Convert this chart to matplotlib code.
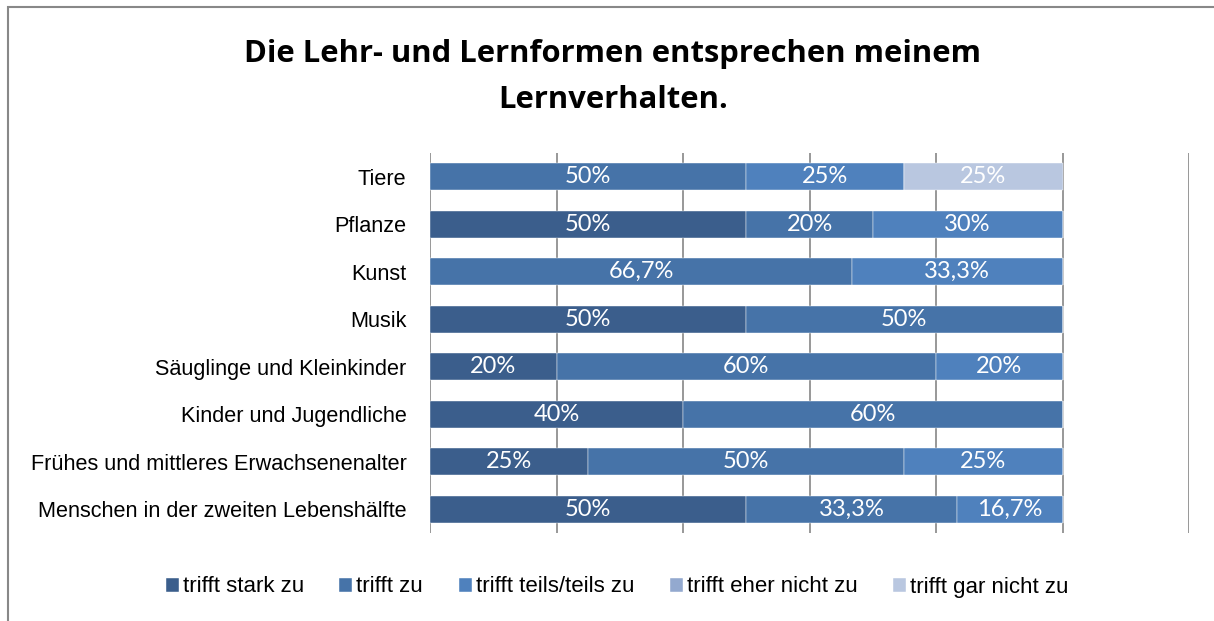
import matplotlib
matplotlib.use("Agg")
import matplotlib.pyplot as plt
import numpy as np
from matplotlib.patches import Rectangle

categories = ["Tiere", "Pflanze", "Kunst", "Musik", "Säuglinge und Kleinkinder",
              "Kinder und Jugendliche", "Frühes und mittleres Erwachsenenalter",
              "Menschen in der zweiten Lebenshälfte"]
series_names = ["trifft stark zu", "trifft zu", "trifft teils/teils zu",
                "trifft eher nicht zu", "trifft gar nicht zu"]
stark = [0, 50, 0, 50, 20, 40, 25, 50]
zu = [50, 20, 66.7, 50, 60, 60, 50, 33.3]
teils = [25, 30, 33.3, 0, 20, 0, 25, 16.7]
eher = [0, 0, 0, 0, 0, 0, 0, 0]
gar = [25, 0, 0, 0, 0, 0, 0, 0]
colors = ["#3B5E8C", "#4673A8", "#4F81BD", "#93A9CF", "#B9C7E0"]

title = "Die Lehr- und Lernformen entsprechen meinem\nLernverhalten."

W, H = 1214, 621
fig = plt.figure(figsize=(W / 100, H / 100), dpi=100)
ax = fig.add_axes([430 / W, 1 - 533 / H, (1189 - 430) / W, (533 - 153) / H])

y = np.arange(len(categories))
left = np.zeros(len(categories))
series = [stark, zu, teils, eher, gar]
for vals, name, col in zip(series, series_names, colors):
    vals = np.array(vals, dtype=float)
    ax.barh(y, vals, left=left, height=0.57, color=col, label=name,
            edgecolor="#FFFFFF", linewidth=0.3, zorder=2)
    for yi, (l, v) in enumerate(zip(left, vals)):
        if v > 0:
            txt = (f"{v:.0f}%" if float(v).is_integer() else f"{v:.1f}%".replace(".", ","))
            ax.text(l + v / 2, yi, txt, ha="center", va="center", color="white",
                    fontsize=17, family=["Lato", "DejaVu Sans"], zorder=3)
    left = left + vals

ax.set_xlim(0, 120)
ax.set_ylim(len(categories) - 0.5, -0.5)
ax.set_xticks(np.arange(0, 121, 20))
ax.xaxis.grid(True, color="#868686", linewidth=1.2, zorder=0)
ax.set_axisbelow(True)
ax.tick_params(axis="x", length=0, labelbottom=False)
ax.set_yticks(y)
ax.set_yticklabels(categories, fontsize=15.6, family=["Liberation Sans", "DejaVu Sans"])
ax.tick_params(axis="y", length=0, pad=17)
for s in ax.spines.values():
    s.set_visible(False)

fig.text(613 / W, 1 - 77 / H, title, ha="center", va="center", fontsize=22.3,
         fontweight="bold", family=["Open Sans", "DejaVu Sans"], linespacing=1.7)

leg = fig.legend(loc="center", bbox_to_anchor=(617 / W, 1 - 587 / H), ncol=5,
                 frameon=False, handlelength=0.59, handleheight=0.59,
                 handletextpad=0.18, columnspacing=1.6,
                 prop={"family": ["Liberation Sans", "DejaVu Sans"], "size": 16})

fig.patches.append(Rectangle((8 / W, -0.1), 1.2, 1 - 7 / H + 0.1, transform=fig.transFigure,
                             fill=False, edgecolor="#888888", linewidth=1.5))

fig.savefig("out.png", dpi=100)
